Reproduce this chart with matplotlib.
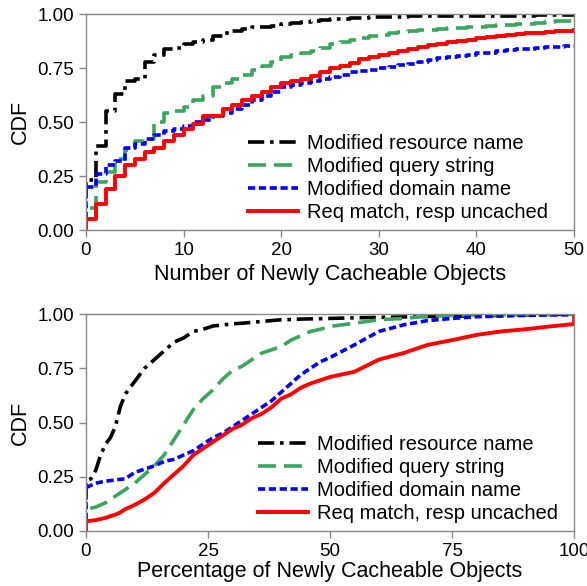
import matplotlib
matplotlib.use("Agg")
import matplotlib.pyplot as plt
import numpy as np

plt.rcParams['font.family'] = ['Liberation Sans', 'DejaVu Sans']

# ---- top panel: number of newly cacheable objects (step CDF, x = 0..50)
count_x = list(range(0, 51))
count_resource = [0.23, 0.39, 0.55, 0.63, 0.69, 0.70, 0.78, 0.81, 0.84, 0.845,
                  0.86, 0.87, 0.88, 0.90, 0.91, 0.92, 0.93, 0.94, 0.94, 0.945,
                  0.955, 0.96, 0.965, 0.97, 0.972, 0.975, 0.978, 0.98, 0.983, 0.985,
                  0.987, 0.988, 0.988, 0.989, 0.989, 0.99, 0.99, 0.99, 0.99, 0.99,
                  0.99, 0.991, 0.992, 0.992, 0.993, 0.993, 0.994, 0.994, 0.995, 0.995, 0.995]
count_query = [0.10, 0.22, 0.27, 0.33, 0.37, 0.41, 0.42, 0.50, 0.54, 0.55,
               0.57, 0.60, 0.62, 0.66, 0.68, 0.70, 0.72, 0.74, 0.76, 0.78,
               0.80, 0.81, 0.82, 0.83, 0.845, 0.86, 0.87, 0.88, 0.89, 0.90,
               0.905, 0.91, 0.915, 0.92, 0.925, 0.928, 0.93, 0.935, 0.937, 0.94,
               0.942, 0.945, 0.948, 0.95, 0.953, 0.956, 0.96, 0.963, 0.966, 0.968, 0.97]
count_domain = [0.20, 0.26, 0.30, 0.32, 0.38, 0.40, 0.42, 0.44, 0.46, 0.47,
                0.48, 0.50, 0.51, 0.53, 0.54, 0.56, 0.58, 0.60, 0.62, 0.64,
                0.66, 0.67, 0.68, 0.69, 0.70, 0.71, 0.72, 0.73, 0.735, 0.74,
                0.748, 0.755, 0.762, 0.77, 0.78, 0.787, 0.795, 0.80, 0.807, 0.812,
                0.818, 0.822, 0.827, 0.832, 0.836, 0.84, 0.843, 0.846, 0.849, 0.851, 0.853]
count_uncached = [0.05, 0.12, 0.19, 0.25, 0.30, 0.33, 0.36, 0.38, 0.41, 0.44,
                  0.47, 0.49, 0.53, 0.53, 0.56, 0.58, 0.60, 0.62, 0.64, 0.66,
                  0.68, 0.69, 0.70, 0.715, 0.73, 0.748, 0.76, 0.775, 0.79, 0.80,
                  0.81, 0.82, 0.83, 0.84, 0.848, 0.856, 0.863, 0.87, 0.876, 0.882,
                  0.887, 0.892, 0.897, 0.902, 0.906, 0.91, 0.914, 0.917, 0.92, 0.923, 0.926]

# ---- bottom panel: percentage of newly cacheable objects
pct_x = [0, 1, 2, 3, 4, 5, 6, 7, 8, 9, 10, 12, 14, 16, 18, 20, 22, 24, 26, 28,
         30, 32, 34, 36, 38, 40, 42, 44, 46, 48, 50, 55, 60, 65, 70, 75, 80, 85,
         90, 95, 100]
pct_resource = [0.23, 0.24, 0.28, 0.35, 0.40, 0.43, 0.48, 0.57, 0.63, 0.66, 0.69,
                0.75, 0.79, 0.83, 0.87, 0.89, 0.92, 0.93, 0.945, 0.95, 0.955, 0.958,
                0.962, 0.966, 0.97, 0.974, 0.975, 0.977, 0.978, 0.979, 0.98, 0.983,
                0.985, 0.987, 0.989, 0.99, 0.992, 0.994, 0.996, 0.998, 1.0]
pct_query = [0.10, 0.105, 0.11, 0.12, 0.13, 0.145, 0.16, 0.175, 0.19, 0.205, 0.22,
             0.26, 0.30, 0.35, 0.42, 0.49, 0.56, 0.61, 0.65, 0.70, 0.74, 0.76,
             0.79, 0.82, 0.835, 0.85, 0.88, 0.90, 0.92, 0.93, 0.943, 0.958,
             0.974, 0.98, 0.99, 0.994, 0.996, 0.997, 0.998, 0.999, 1.0]
pct_domain = [0.20, 0.21, 0.22, 0.225, 0.23, 0.232, 0.235, 0.238, 0.24, 0.255, 0.27,
              0.285, 0.30, 0.32, 0.33, 0.35, 0.37, 0.40, 0.43, 0.45, 0.48, 0.51,
              0.54, 0.57, 0.60, 0.64, 0.68, 0.72, 0.75, 0.78, 0.80, 0.858,
              0.92, 0.95, 0.97, 0.98, 0.988, 0.991, 0.994, 0.996, 0.997]
pct_uncached = [0.045, 0.047, 0.05, 0.055, 0.06, 0.068, 0.075, 0.085, 0.10, 0.11, 0.12,
                0.145, 0.175, 0.22, 0.26, 0.30, 0.35, 0.38, 0.41, 0.44, 0.47, 0.49,
                0.52, 0.54, 0.57, 0.61, 0.63, 0.66, 0.68, 0.695, 0.71, 0.734,
                0.79, 0.82, 0.858, 0.88, 0.904, 0.92, 0.93, 0.943, 0.954]

labels = ['Modified resource name', 'Modified query string',
          'Modified domain name', 'Req match, resp uncached']
colors = ['black', '#3aa65e', '#0000ff', '#ff0000']
dashes = [(4.5, 1.6, 1.0, 1.6), (5, 2.2), (2.0, 1.0), None]
widths = [2.6, 2.6, 2.6, 2.8]

fig = plt.figure(figsize=(5.87, 5.86), dpi=100)
ax1 = fig.add_axes([0.1465, 0.6075, 0.8315, 0.3685])
ax2 = fig.add_axes([0.1465, 0.094, 0.8315, 0.370])


def style_axes(ax):
    for sp in ax.spines.values():
        sp.set_color('#888888')
        sp.set_linewidth(1.0)
    ax.tick_params(direction='out', color='#888888', length=5, width=1,
                   labelsize=13.5)
    ax.set_ylim(0, 1)
    ax.set_yticks([0, 0.25, 0.5, 0.75, 1.0])
    ax.set_yticklabels(['0.00', '0.25', '0.50', '0.75', '1.00'])
    ax.set_ylabel('CDF', fontsize=15.5, labelpad=5)


def add_legend(ax, x0):
    ax.legend(loc='lower left', bbox_to_anchor=(x0, 0.035), frameon=False,
              fontsize=14.5, handlelength=2.5, labelspacing=0.2,
              handletextpad=0.45, borderpad=0, borderaxespad=0)


# top: step CDFs
top_series = [count_resource, count_query, count_domain, count_uncached]
for ys, lab, c, d, w in zip(top_series, labels, colors, dashes, widths):
    xs = [0] + count_x
    yy = [0] + ys
    line, = ax1.plot(xs, yy, drawstyle='steps-post', color=c, lw=w, label=lab)
    if d is not None:
        line.set_dashes(d)
ax1.set_xlim(0, 50)
ax1.set_xticks([0, 10, 20, 30, 40, 50])
style_axes(ax1)
ax1.set_xlabel('Number of Newly Cacheable Objects', fontsize=15.5)
add_legend(ax1, 0.332)

# bottom: percentage CDFs
bot_series = [pct_resource, pct_query, pct_domain, pct_uncached]
for ys, lab, c, d, w in zip(bot_series, labels, colors, dashes, widths):
    xs = [0] + pct_x + ([100] if ys[-1] < 1 else [])
    yy = [0] + ys + ([1.0] if ys[-1] < 1 else [])
    line, = ax2.plot(xs, yy, color=c, lw=w, label=lab)
    if d is not None:
        line.set_dashes(d)
ax2.set_xlim(0, 100)
ax2.set_xticks([0, 25, 50, 75, 100])
style_axes(ax2)
ax2.set_xlabel('Percentage of Newly Cacheable Objects', fontsize=15.5, labelpad=1)
add_legend(ax2, 0.352)

fig.savefig('out.png', dpi=100)
